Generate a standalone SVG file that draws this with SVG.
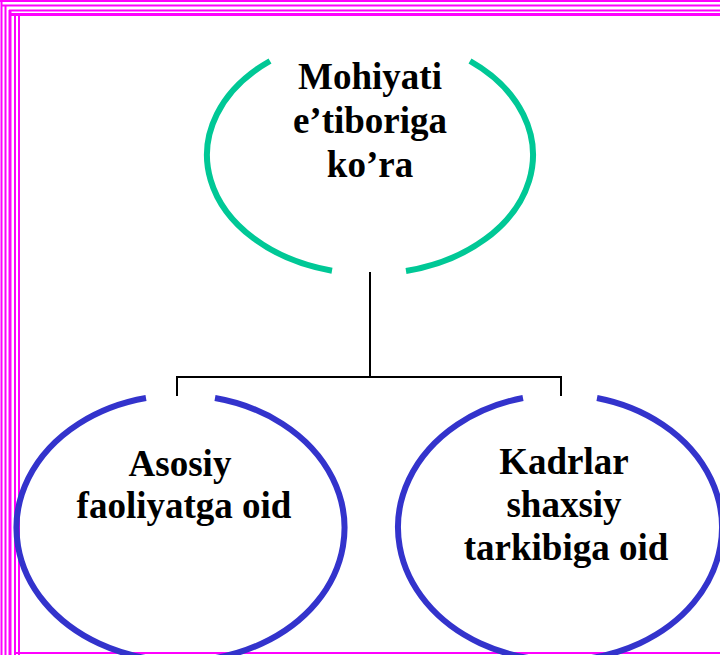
<svg xmlns="http://www.w3.org/2000/svg" width="720" height="655" viewBox="0 0 720 655">
<style>
.b{stroke:#FF00FF;fill:none}
.t{font-family:"Liberation Serif","Times New Roman",serif;font-weight:bold;font-size:37px;text-anchor:middle;fill:#000}
.teal{fill:none;stroke:#00C896;stroke-width:6}
.blue{fill:none;stroke:#3333CC;stroke-width:6}
.c{fill:none;stroke:#000;stroke-width:2}
</style>
<rect width="720" height="655" fill="#fff"/>
<g id="border">
<line class="b" x1="0" y1="1" x2="720" y2="1" stroke-width="2"/>
<line class="b" x1="2" y1="5.5" x2="720" y2="5.5" stroke-width="2"/>
<line class="b" x1="9" y1="10.5" x2="720" y2="10.5" stroke-width="2"/>
<line class="b" x1="9" y1="14.5" x2="720" y2="14.5" stroke-width="3"/>
<line class="b" x1="1.5" y1="0" x2="1.5" y2="655" stroke-width="2"/>
<line class="b" x1="5.5" y1="5" x2="5.5" y2="655" stroke-width="2"/>
<line class="b" x1="10" y1="10" x2="10" y2="655" stroke-width="3"/>
<line class="b" x1="15" y1="13" x2="15" y2="655" stroke-width="2"/>
<line class="b" x1="19" y1="13" x2="19" y2="655" stroke-width="2"/>
<line class="b" x1="14" y1="653" x2="720" y2="653" stroke-width="2"/>
</g>
<g id="connectors">
<path class="c" d="M370 272 V377 M177 396 V377 H561 V396"/>
</g>
<g id="top">
<path class="teal" d="M332 270.7 A163 119 0 0 1 270 61 M470 61 A163 119 0 0 1 406 271"/>
<text class="t" x="370" y="89">Mohiyati</text>
<text class="t" x="370" y="133">e’tiboriga</text>
<text class="t" x="370" y="177">ko’ra</text>
</g>
<g id="left">
<path class="blue" d="M215 398 A164 133 0 1 1 146 398"/>
<text class="t" x="180" y="476">Asosiy</text>
<text class="t" x="184" y="518">faoliyatga oid</text>
</g>
<g id="right">
<path class="blue" d="M597 398 A162 133 0 1 1 523 398"/>
<text class="t" x="564" y="474">Kadrlar</text>
<text class="t" x="564" y="517">shaxsiy</text>
<text class="t" x="566" y="560">tarkibiga oid</text>
</g>
</svg>
